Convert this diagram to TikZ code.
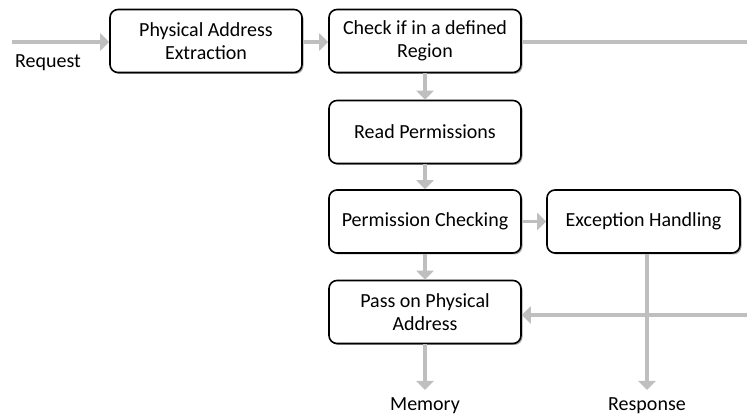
\documentclass[tikz,border=0pt]{standalone}
\usepackage{fontspec}
\setmainfont{Carlito}
\usetikzlibrary{arrows.meta,shadows}
\definecolor{flowgray}{HTML}{BFBFBF}
\begin{document}
\begin{tikzpicture}[x=1pt,y=-1pt,
  box/.style={draw=black, line width=1.6pt, rounded corners=8pt, fill=white,
    minimum width=192pt, minimum height=63pt, align=center, inner sep=2pt,
    font=\fontsize{20}{23.5}\selectfont,
    drop shadow={shadow xshift=1.5pt, shadow yshift=-1.5pt, opacity=0.35, fill=black}},
  lbl/.style={font=\fontsize{20}{23.5}\selectfont, inner sep=0pt},
  flow/.style={draw=flowgray, line width=3.5pt, -{Triangle[width=17pt,length=9pt]}},
  plain/.style={draw=flowgray, line width=3.5pt}]
\useasboundingbox (0,0) rectangle (747,419);

% process boxes
\node[box] (pae)  at (206,41)    {Physical Address\\Extraction};
\node[box] (chk)  at (425,41)    {Check if in a defined\\Region};
\node[box] (rdp)  at (425,132)   {Read Permissions};
\node[box] (pc)   at (425,221.5) {Permission Checking};
\node[box, minimum width=193pt] (eh) at (643.5,221.5) {Exception Handling};
\node[box] (pass) at (425,312)   {Pass on Physical\\Address};

% free ends and labels
\coordinate (reqin) at (12,42);
\coordinate (chkout) at (747,42);
\coordinate (passin) at (747,315);
\coordinate (memout) at (425,390);
\coordinate (resout) at (647,390);
\node[lbl] (req) at (48,63) {Request};
\node[lbl] (mem) at (425,406) {Memory};
\node[lbl] (res) at (647,406) {Response};

% connectors
\draw[flow] (reqin) -- (pae.west |- reqin);
\draw[flow] (pae.east |- reqin) -- (chk.west |- reqin);
\draw[plain] (chk.east |- chkout) -- (chkout);
\draw[flow] (chk.south) -- (rdp.north);
\draw[flow] (rdp.south) -- (pc.north);
\draw[flow] (pc.east) -- (eh.west);
\draw[flow] (pc.south) -- (pass.north);
\draw[flow] (eh.south -| resout) -- (resout);
\draw[flow] (passin) -- (pass.east |- passin);
\draw[flow] (pass.south) -- (memout);
\end{tikzpicture}
\end{document}
